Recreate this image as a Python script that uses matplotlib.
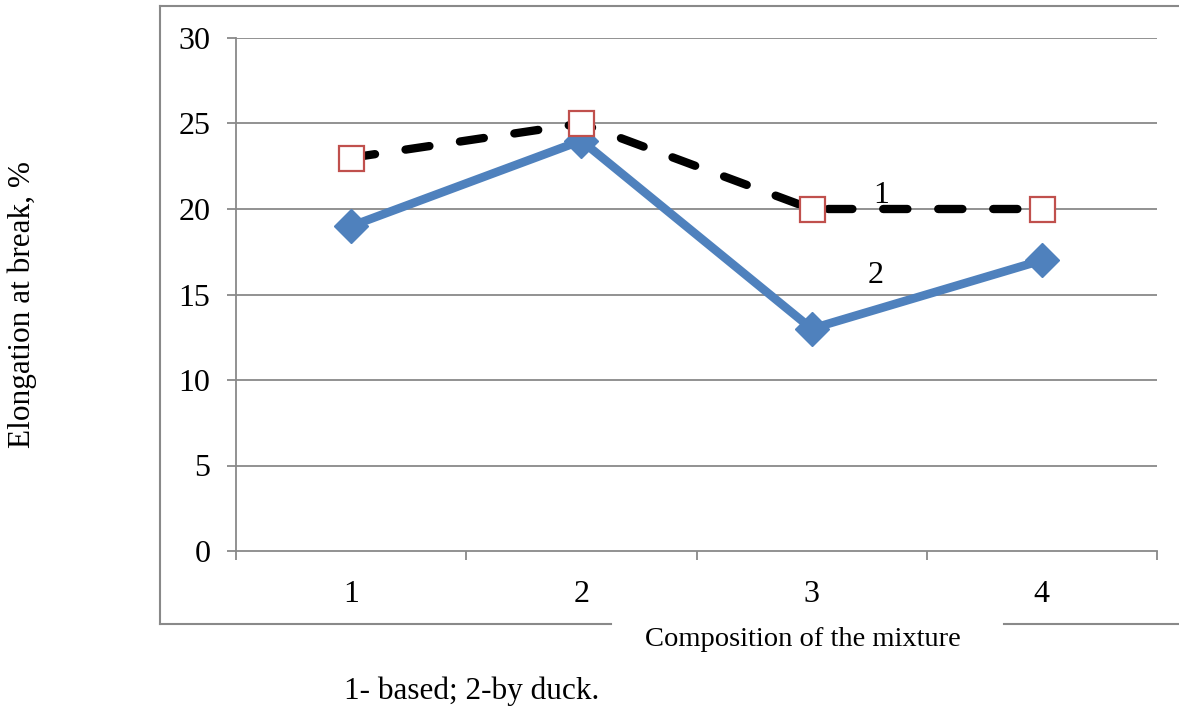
import matplotlib
matplotlib.use("Agg")
import matplotlib.pyplot as plt
from matplotlib.lines import Line2D

categories = ["1", "2", "3", "4"]
series1 = [23, 25, 20, 20]   # 1 - based
series2 = [19, 24, 13, 17]   # 2 - by duck
yticks = [0, 5, 10, 15, 20, 25, 30]

plt.rcParams['font.family'] = ['Liberation Serif', 'DejaVu Serif']

fig = plt.figure(figsize=(11.79, 7.07), dpi=100)
ax = fig.add_axes([236/1179, 1-551/707, (1157-236)/1179, (551-38)/707])

x = list(range(1, len(categories)+1))
grid_c = '#898989'

for v in yticks[1:]:
    ax.axhline(v, color=grid_c, lw=1.3, zorder=1)

ax.plot(x, series1, color='black', lw=6, dashes=(2.9, 3.7), dash_capstyle='round',
        marker='s', markersize=18, markerfacecolor='white', markeredgecolor='#C0504D',
        markeredgewidth=1.6, zorder=4)
ax.plot(x, series2, color='#4F81BD', lw=6.2, marker='D', markersize=17,
        markerfacecolor='#4F81BD', markeredgecolor='#4F81BD', zorder=3)

ax.text(3.3, 20.8, "1", fontsize=23, ha='center', va='center', zorder=5)
ax.text(3.28, 16.1, "2", fontsize=23, ha='center', va='center', zorder=5)

ax.set_xlim(0.5, len(categories)+0.5)
ax.set_ylim(0, 30)
ax.set_yticks(yticks)
ax.set_xticks(x)
ax.set_xticklabels(categories, fontsize=23)
ax.set_xticks([i+0.5 for i in range(len(categories)+1)], minor=True)
ax.tick_params(axis='x', which='major', length=0, pad=21)
ax.tick_params(axis='x', which='minor', length=6.5, width=1.3, color=grid_c)
ax.tick_params(axis='y', which='major', length=6.5, width=1.3, color=grid_c, labelsize=23, pad=12)
for s in ['top', 'right']:
    ax.spines[s].set_visible(False)
for s in ['left', 'bottom']:
    ax.spines[s].set_color(grid_c)
    ax.spines[s].set_linewidth(1.3)

# chart-area frame
W, H = 1179, 707
def fl(x0, y0, x1, y1):
    fig.add_artist(Line2D([x0/W, x1/W], [1-y0/H, 1-y1/H], color=grid_c, lw=1.5))
fl(160, 6, 1179, 6)
fl(160, 6, 160, 624)
fl(160, 624, 611, 624)
fl(1004, 624, 1179, 624)

fig.text(803/W, 1-640/H, "Composition of the mixture", fontsize=20.5, ha='center', va='center')
fig.text(22/W, 1-304/H, "Elongation at break, %", fontsize=22.5, ha='center', va='center', rotation=90)
fig.text(472/W, 1-691/H, "1- based; 2-by duck.", fontsize=22.5, ha='center', va='center')

fig.savefig("out.png", dpi=100)
